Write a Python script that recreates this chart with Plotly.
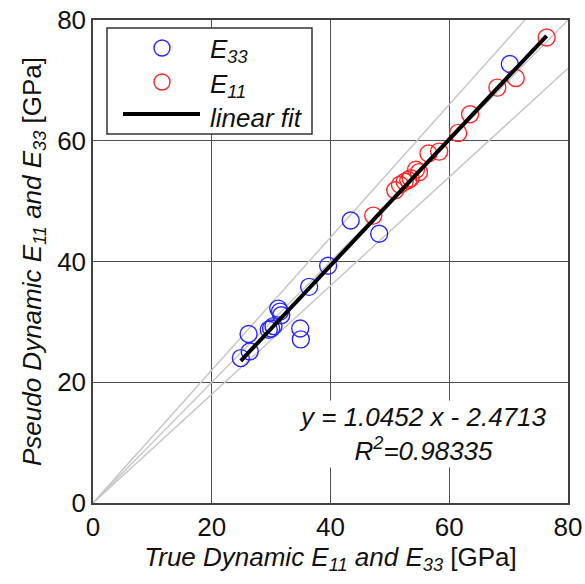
import plotly.graph_objects as go

# ---- data ----
e33_true = [24.9, 26.4, 26.2, 29.6, 30.4, 30.0, 31.2, 31.5, 31.7, 34.9, 35.0, 36.4, 39.6, 43.4, 48.2, 70.2]
e33_pseudo = [24.0, 25.1, 28.0, 28.7, 29.3, 28.9, 32.2, 31.7, 31.1, 28.9, 27.1, 35.8, 39.3, 46.8, 44.6, 72.7]

e11_true = [47.2, 50.9, 51.7, 52.5, 53.1, 53.5, 54.4, 54.9, 56.5, 58.3, 61.5, 63.5, 68.1, 71.2, 76.4]
e11_pseudo = [47.6, 51.8, 52.7, 53.2, 53.5, 53.8, 55.2, 54.8, 57.9, 58.2, 61.3, 64.4, 68.8, 70.4, 77.1]

fit_slope = 1.0452
fit_intercept = -2.4713
fit_r2 = 0.98335
fit_x = [24.9, 76.4]

ref_factors = [0.9, 1.0, 1.1]
ref_x = [0, 80]

x_ticks = [0, 20, 40, 60, 80]
y_ticks = [0, 20, 40, 60, 80]

FONT = "Liberation Sans, Arial, sans-serif"
FS = 26
BLUE = "rgb(40,40,255)"
RED = "rgb(255,40,40)"

fig = go.Figure()

for f in ref_factors:
    fig.add_trace(go.Scatter(x=ref_x, y=[f * v for v in ref_x], mode="lines",
                             line=dict(color="#c8c8c8", width=1.5),
                             showlegend=False, hoverinfo="skip"))

fig.add_trace(go.Scatter(x=e33_true, y=e33_pseudo, mode="markers", name="E33",
                         marker=dict(symbol="circle-open", size=17, color=BLUE,
                                     line=dict(color=BLUE, width=1.4)),
                         showlegend=False))
fig.add_trace(go.Scatter(x=e11_true, y=e11_pseudo, mode="markers", name="E11",
                         marker=dict(symbol="circle-open", size=17, color=RED,
                                     line=dict(color=RED, width=1.4)),
                         showlegend=False))
fig.add_trace(go.Scatter(x=fit_x, y=[fit_slope * v + fit_intercept for v in fit_x],
                         mode="lines", line=dict(color="black", width=4),
                         name="linear fit", showlegend=False))

L, R, T, B = 93, 17, 20, 81
W, H = 585, 584
pw, ph = W - L - R, H - T - B


def px(xp):
    return (xp - L) / pw


def py(yp):
    return (H - B - yp) / ph


shapes = [
    dict(type="rect", xref="paper", yref="paper", x0=px(107), x1=px(312),
         y0=py(134), y1=py(28), line=dict(color="#333333", width=1.5),
         fillcolor="white", layer="above"),
    dict(type="circle", xref="paper", yref="paper", xsizemode="pixel", ysizemode="pixel",
         xanchor=px(162), yanchor=py(48), x0=-8, x1=8, y0=-8, y1=8,
         line=dict(color=BLUE, width=1.4), layer="above"),
    dict(type="circle", xref="paper", yref="paper", xsizemode="pixel", ysizemode="pixel",
         xanchor=px(162), yanchor=py(82), x0=-8, x1=8, y0=-8, y1=8,
         line=dict(color=RED, width=1.4), layer="above"),
    dict(type="line", xref="paper", yref="paper", x0=px(123), x1=px(200),
         y0=py(114), y1=py(114), line=dict(color="black", width=4), layer="above"),
]

annotations = [
    dict(xref="paper", yref="paper", x=px(208), y=py(50), xanchor="left", yanchor="middle",
         text="<i>E<sub>33</sub></i>", showarrow=False, font=dict(family=FONT, size=FS, color="#111")),
    dict(xref="paper", yref="paper", x=px(208), y=py(85), xanchor="left", yanchor="middle",
         text="<i>E<sub>11</sub></i>", showarrow=False, font=dict(family=FONT, size=FS, color="#111")),
    dict(xref="paper", yref="paper", x=px(208), y=py(118), xanchor="left", yanchor="middle",
         text="<i>linear fit</i>", showarrow=False, font=dict(family=FONT, size=FS, color="#111")),
    dict(xref="paper", yref="paper", x=px(423), y=py(434), xanchor="center", yanchor="middle",
         text=f"<i>y = {fit_slope} x - {abs(fit_intercept)}</i><br><i>R<sup>2</sup>={fit_r2}</i>",
         align="center", showarrow=False, bgcolor="white",
         font=dict(family=FONT, size=FS, color="#111")),
]

axis_common = dict(range=[0, 80], tickvals=x_ticks, showgrid=True, gridcolor="#505050",
                   gridwidth=1, zeroline=False, showline=True, mirror=True,
                   linecolor="#404040", linewidth=1.5, ticks="", automargin=False,
                   tickfont=dict(family=FONT, size=FS, color="#111"))

fig.update_layout(
    width=W, height=H, autosize=False,
    margin=dict(l=L, r=R, t=T, b=B),
    paper_bgcolor="white", plot_bgcolor="white",
    shapes=shapes, annotations=annotations,
    xaxis=dict(**axis_common,
               title=dict(text="<i>True Dynamic E<sub>11</sub> and E<sub>33</sub></i> [GPa]",
                          font=dict(family=FONT, size=FS, color="#111"), standoff=4)),
    yaxis=dict(**{**axis_common, "tickvals": y_ticks},
               title=dict(text="<i>Pseudo Dynamic E<sub>11</sub> and E<sub>33</sub></i> [GPa]",
                          font=dict(family=FONT, size=FS, color="#111"), standoff=8)),
)

fig.write_html("out.html")
